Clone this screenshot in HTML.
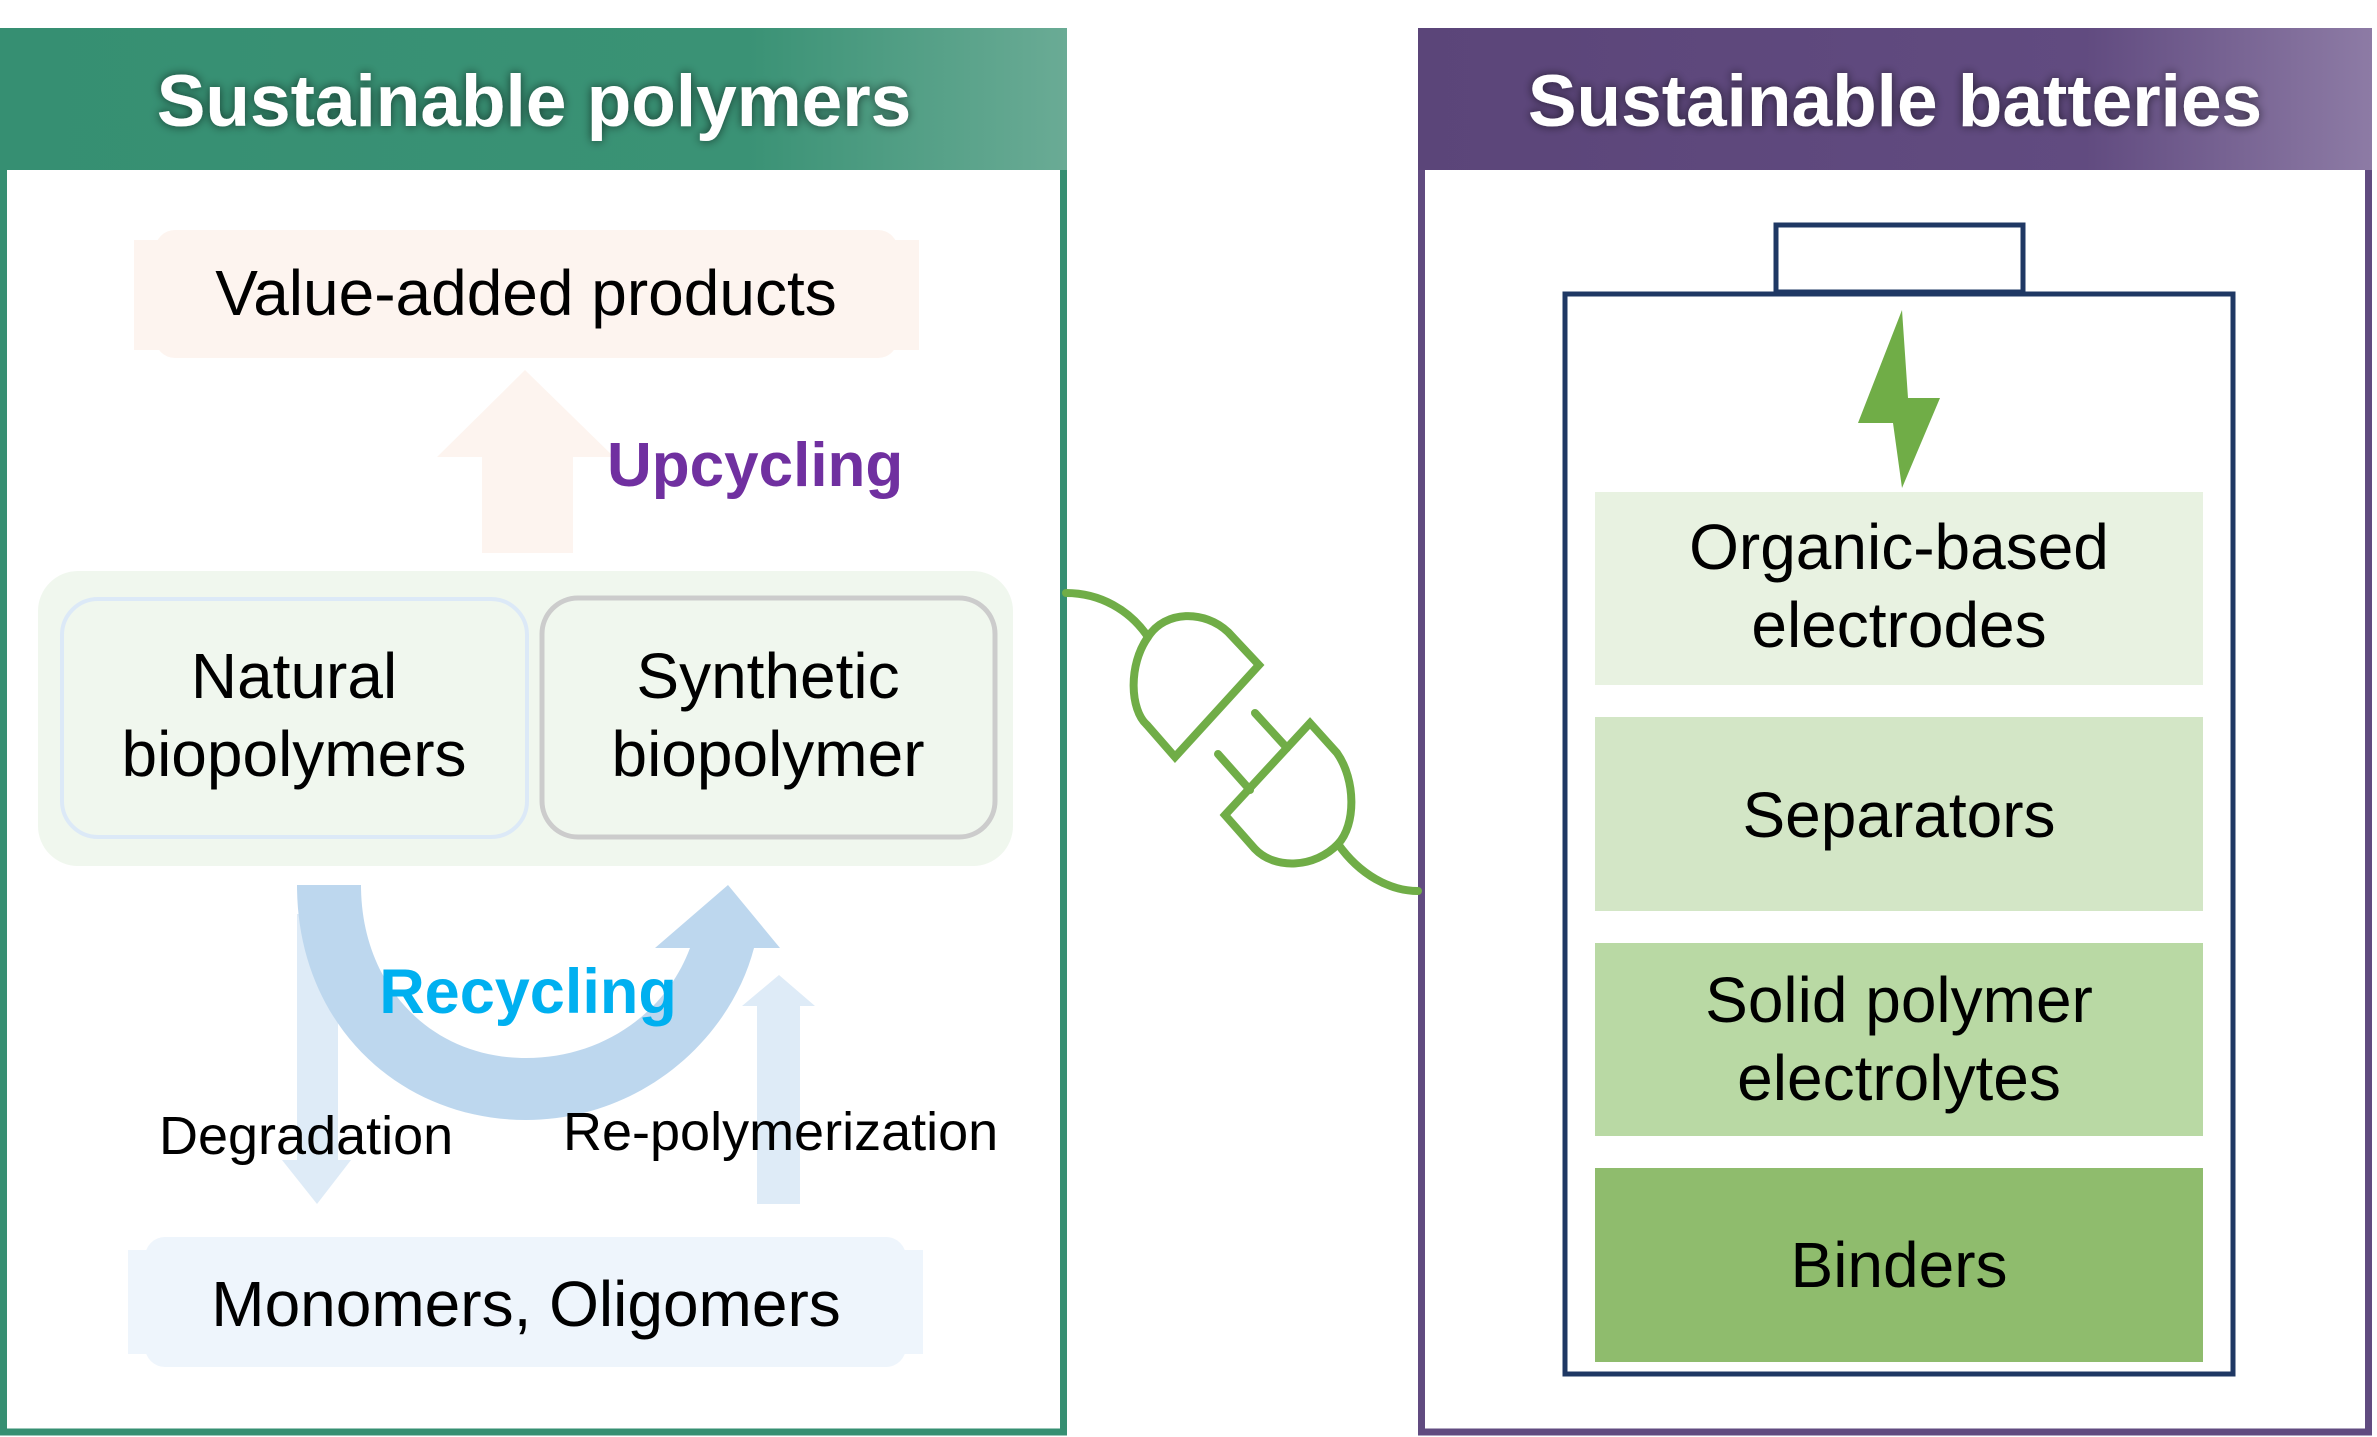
<!DOCTYPE html>
<html><head><meta charset="utf-8"><style>
html,body{margin:0;padding:0;background:#fff;}
svg{display:block;}
text{font-family:"Liberation Sans",Arial,sans-serif;}
</style></head><body>
<svg width="2377" height="1437" viewBox="0 0 2377 1437" xmlns="http://www.w3.org/2000/svg">
<defs>
<linearGradient id="gl" x1="0" y1="0" x2="1" y2="0">
<stop offset="0" stop-color="#368f72"/><stop offset="0.7" stop-color="#3a9275"/><stop offset="1" stop-color="#6aab95"/></linearGradient>
<linearGradient id="gr" x1="0" y1="0" x2="1" y2="0">
<stop offset="0" stop-color="#5b4579"/><stop offset="0.7" stop-color="#614b80"/><stop offset="1" stop-color="#8d7ba5"/></linearGradient>
<filter id="glow" x="-10%" y="-50%" width="120%" height="200%"><feGaussianBlur in="SourceAlpha" stdDeviation="5"/><feComponentTransfer><feFuncA type="linear" slope="0.6"/></feComponentTransfer><feMerge><feMergeNode/><feMergeNode in="SourceGraphic"/></feMerge></filter>
</defs>
<!-- left panel -->
<rect x="3.5" y="32" width="1060" height="1400" fill="#fff" stroke="#368f72" stroke-width="7"/>
<rect x="0" y="28" width="1067" height="142" fill="url(#gl)"/>
<text x="534" y="126" font-size="73" font-weight="bold" fill="#fff" text-anchor="middle" filter="url(#glow)">Sustainable polymers</text>
<!-- right panel -->
<rect x="1421.5" y="32" width="947" height="1400" fill="#fff" stroke="#614b80" stroke-width="7"/>
<rect x="1418" y="28" width="954" height="142" fill="url(#gr)"/>
<text x="1895" y="126" font-size="73" font-weight="bold" fill="#fff" text-anchor="middle" filter="url(#glow)">Sustainable batteries</text>

<!-- value added -->
<rect x="134" y="240" width="785" height="110" fill="#fdf4ef"/>
<rect x="155" y="230" width="743" height="128" rx="20" fill="#fdf4ef"/>
<text x="526" y="315" font-size="64" text-anchor="middle" fill="#000">Value-added products</text>
<polygon points="437,457 525,370 614,457 573,457 573,553 482,553 482,457" fill="#fdf4ef"/>
<text x="607" y="486" font-size="62" font-weight="bold" fill="#7030a0">Upcycling</text>

<!-- green container -->
<rect x="38" y="571" width="975" height="295" rx="40" fill="#f0f7ee"/>
<rect x="62" y="599" width="465" height="238" rx="36" fill="#f0f7ee" stroke="#dce9f7" stroke-width="4"/>
<rect x="542" y="598" width="453" height="239" rx="36" fill="#f0f7ee" stroke="#cccccc" stroke-width="5"/>
<text x="294" y="698" font-size="64" text-anchor="middle">Natural</text>
<text x="294" y="776" font-size="64" text-anchor="middle">biopolymers</text>
<text x="768" y="698" font-size="64" text-anchor="middle">Synthetic</text>
<text x="768" y="776" font-size="64" text-anchor="middle">biopolymer</text>

<!-- pale arrows -->
<polygon points="297,914 338,914 338,1160 351,1160 317,1204 282,1160 297,1160" fill="#deebf7"/>
<polygon points="757,1204 800,1204 800,1006 815,1006 779,975 742,1006 757,1006" fill="#deebf7"/>
<!-- recycling arrow -->
<path d="M297,885 C297,1025 400,1120 526,1120 C640,1120 730,1040 754,948 L780,948 L728,885 L655,948 L690,948 C665,1015 600,1058 526,1058 C430,1058 361,985 361,885 Z" fill="#bdd7ee"/>
<text x="528" y="1013" font-size="63" font-weight="bold" fill="#00b0f0" text-anchor="middle">Recycling</text>
<text x="159" y="1154" font-size="54">Degradation</text>
<text x="563" y="1150" font-size="54">Re-polymerization</text>

<!-- monomers -->
<rect x="128" y="1250" width="795" height="104" fill="#eef5fc"/>
<rect x="145" y="1237" width="761" height="130" rx="20" fill="#eef5fc"/>
<text x="526" y="1326" font-size="64" text-anchor="middle">Monomers, Oligomers</text>

<!-- plug -->
<g fill="none" stroke="#70ad47" stroke-width="8" stroke-linecap="round">
<path d="M1066,593 C1100,593 1130,610 1148,637"/>
<path d="M1175,757 L1259,665 L1228,632 C1205,610 1165,610 1148,637 C1128,665 1130,710 1147,725 Z" stroke-linejoin="miter"/>
<path d="M1225,815 L1310,723 L1337,753 C1356,780 1356,825 1338,844 C1315,868 1275,870 1255,849 Z"/>
<path d="M1218,754 L1250,790"/>
<path d="M1255,713 L1287,748"/>
<path d="M1338,844 C1360,875 1390,891 1418,891"/>
</g>

<!-- battery -->
<g transform="translate(-10,-2)">
<rect x="1786" y="227" width="247" height="67" fill="#fff" stroke="#1f3864" stroke-width="5"/>
<rect x="1575" y="296" width="668" height="1080" fill="#fff" stroke="#1f3864" stroke-width="5"/>
<polygon points="1912,312 1868,425 1903,425 1912,490 1950,400 1918,400" fill="#70ad47"/>
<rect x="1605" y="494" width="608" height="193" fill="#e8f2e1"/>
<rect x="1605" y="719" width="608" height="194" fill="#d3e6c6"/>
<rect x="1605" y="945" width="608" height="193" fill="#b9d9a4"/>
<rect x="1605" y="1170" width="608" height="194" fill="#8fbc6d"/>
<text x="1909" y="571" font-size="64" text-anchor="middle">Organic-based</text>
<text x="1909" y="649" font-size="64" text-anchor="middle">electrodes</text>
<text x="1909" y="839" font-size="64" text-anchor="middle">Separators</text>
<text x="1909" y="1024" font-size="64" text-anchor="middle">Solid polymer</text>
<text x="1909" y="1102" font-size="64" text-anchor="middle">electrolytes</text>
<text x="1909" y="1289" font-size="64" text-anchor="middle">Binders</text>
</g>
</svg>
</body></html>
